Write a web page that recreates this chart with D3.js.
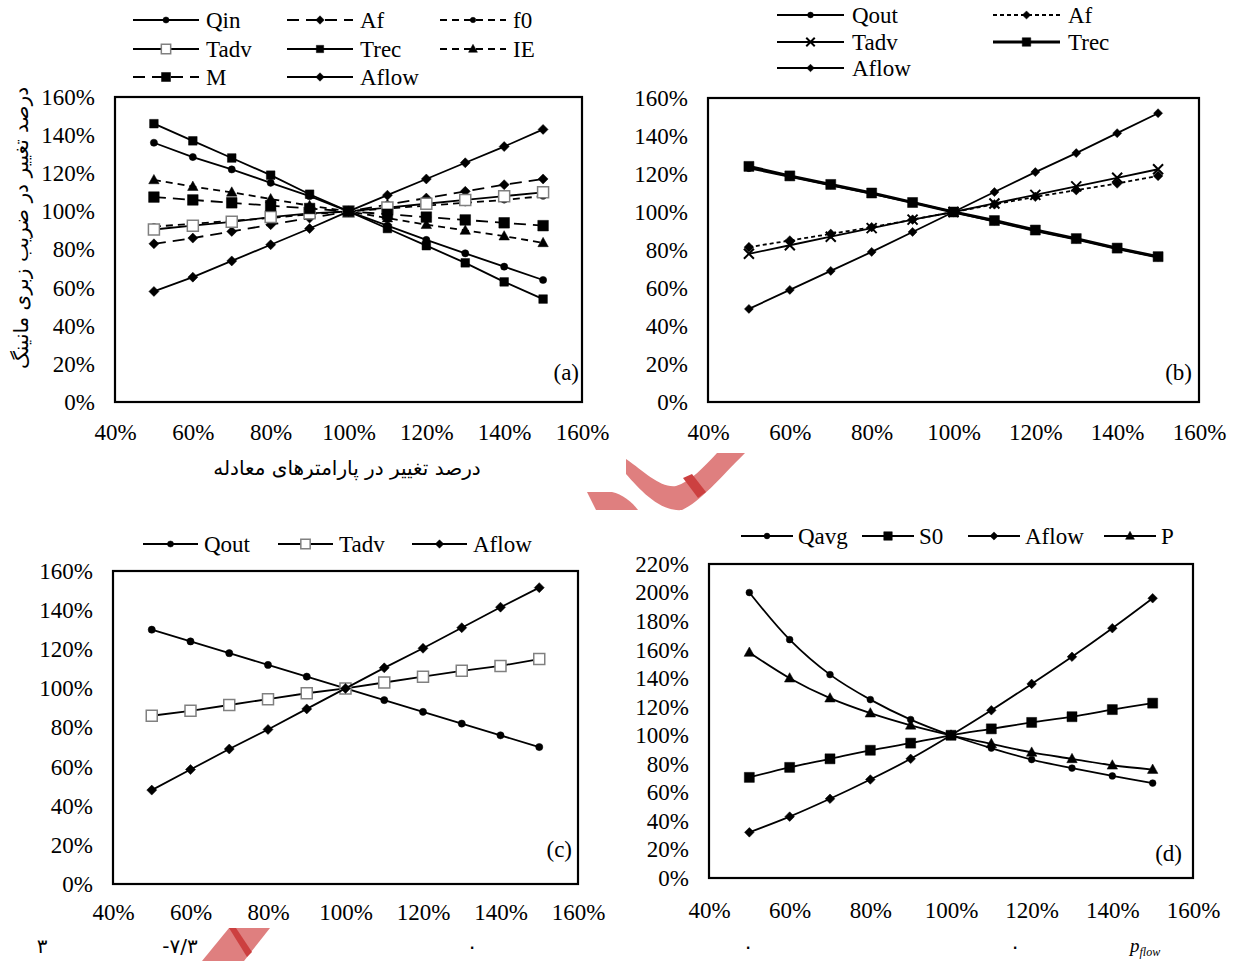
<!DOCTYPE html>
<html lang="fa">
<head>
<meta charset="UTF-8">
<script src="https://cdn.jsdelivr.net/npm/d3@7"></script>
<style>
  body { margin: 0; background: #fff; }
  svg text { font-family: "Liberation Serif", "DejaVu Serif", serif; fill: #000; }
</style>
</head>
<body>
<svg id="chart" width="1235" height="961"></svg>
<script>
// x values (percent change in the parameter)
const xPct = [50, 60, 70, 80, 90, 100, 110, 120, 130, 140, 150];
const xTicks = [40, 60, 80, 100, 120, 140, 160];
const yTicks160 = [0, 20, 40, 60, 80, 100, 120, 140, 160];
const yTicks220 = [0, 20, 40, 60, 80, 100, 120, 140, 160, 180, 200, 220];

// panel (a)
const aQin   = [136, 128.5, 122, 115, 108, 100, 92.5, 85, 78, 71, 64];
const aAf    = [83, 86, 89.5, 93, 96.5, 100, 103.5, 107, 110.5, 114, 117];
const aF0    = [92, 93.5, 95, 96.5, 98.5, 100, 101.5, 103, 104.5, 106, 108];
const aTadv  = [90.5, 92.5, 94.5, 97, 99, 100, 102, 104, 106, 108, 110];
const aTrec  = [146, 137, 128, 119, 109, 100, 91, 82, 73, 63, 54];
const aIE    = [116.5, 113, 110, 106.5, 103, 100, 96.5, 93, 90, 87, 83.5];
const aM     = [107.5, 106, 104.5, 103, 101.5, 100, 98.5, 97, 95.5, 94, 92.5];
const aAflow = [58, 65.5, 74, 82.5, 91, 100, 108.5, 117, 125.5, 134, 143];

// panel (b)
const bQout  = [123, 118.5, 114, 109.5, 105, 100, 95, 90, 85.5, 80.5, 76];
const bAf    = [81.5, 85, 88.5, 92, 96, 100, 104, 108, 111.5, 115, 119];
const bTadv  = [78, 82.5, 87, 91.5, 96, 100, 104.5, 109, 113.5, 118, 122.5];
const bTrec  = [124, 119, 114.5, 110, 105, 100, 95.5, 90.5, 86, 81, 76.5];
const bAflow = [49, 59, 69, 79, 89.5, 100, 110.5, 121, 131, 141.5, 152];

// panel (c)
const cQout  = [130, 124, 118, 112, 106, 100, 94, 88, 82, 76, 70];
const cTadv  = [86, 88.5, 91.5, 94.5, 97.5, 100, 103, 106, 109, 111.5, 115];
const cAflow = [48, 58.5, 69, 79, 89.5, 100, 110.5, 120.5, 131, 141.5, 151.5];

// panel (d)
const dQavg  = [200, 167, 142.5, 125, 111, 100, 91, 83, 77, 71.5, 66.5];
const dS0    = [70.5, 77.5, 83.5, 89.5, 94.5, 100, 104.5, 109, 113, 118, 122.5];
const dAflow = [32, 43, 55.5, 69, 83.5, 100, 117.5, 136, 155, 175, 196];
const dP     = [158, 140, 126, 115.5, 107, 100, 94, 88, 83.5, 79, 76];

const svg = d3.select("#chart");
const FS = "23px";

// marker shapes
function markerPath(type, s) {
  if (type == "circle") {
    return d3.symbol(d3.symbolCircle, Math.PI * s * s)();
  }
  if (type == "diamond") {
    return "M0," + (-s) + "L" + s + ",0L0," + s + "L" + (-s) + ",0Z";
  }
  if (type == "square" || type == "osquare") {
    return "M" + (-s) + "," + (-s) + "H" + s + "V" + s + "H" + (-s) + "Z";
  }
  if (type == "triangle") {
    return "M0," + (-s) + "L" + (s * 0.95) + "," + (s * 0.7) + "L" + (-s * 0.95) + "," + (s * 0.7) + "Z";
  }
  if (type == "x") {
    return "M" + (-s) + "," + (-s) + "L" + s + "," + s + "M" + s + "," + (-s) + "L" + (-s) + "," + s;
  }
}

function drawMarker(g, type, s, x, y) {
  const p = g.append("path")
    .attr("d", markerPath(type, s))
    .attr("transform", "translate(" + x + "," + y + ")");
  if (type == "osquare") {
    p.attr("fill", "#fff").attr("stroke", "#808080").attr("stroke-width", 1.5);
  } else if (type == "x") {
    p.attr("fill", "none").attr("stroke", "#000").attr("stroke-width", 2);
  } else {
    p.attr("fill", "#000").attr("stroke", "#000").attr("stroke-width", 0.5);
  }
}

function drawPanel(cfg) {
  const g = svg.append("g");
  const x = d3.scaleLinear().domain([40, 160]).range([cfg.left, cfg.right]);
  const y = d3.scaleLinear().domain([0, cfg.yMax]).range([cfg.bottom, cfg.top]);

  // axes labels (no tick marks)
  const ya = g.append("g")
    .attr("transform", "translate(" + cfg.left + ",0)")
    .call(d3.axisLeft(y).tickValues(cfg.yTicks).tickSize(0).tickPadding(20).tickFormat(d => d + "%"));
  const xa = g.append("g")
    .attr("transform", "translate(0," + cfg.bottom + ")")
    .call(d3.axisBottom(x).tickValues(xTicks).tickSize(0).tickPadding(cfg.xPad).tickFormat(d => d + "%"));
  [ya, xa].forEach(a => {
    a.select(".domain").remove();
    a.selectAll("text").style("font-size", FS).style("font-family", "Liberation Serif");
  });

  // frame
  g.append("rect")
    .attr("x", cfg.left).attr("y", cfg.top)
    .attr("width", cfg.right - cfg.left).attr("height", cfg.bottom - cfg.top)
    .attr("fill", "none").attr("stroke", "#000").attr("stroke-width", 2.2);

  const line = d3.line()
    .x((d, i) => x(xPct[i]))
    .y(d => y(d))
    .curve(cfg.smooth ? d3.curveCatmullRom.alpha(0.5) : d3.curveLinear);

  cfg.series.forEach(s => {
    g.append("path")
      .datum(s.values)
      .attr("d", line)
      .attr("fill", "none")
      .attr("stroke", "#000")
      .attr("stroke-width", s.w || 1.8)
      .attr("stroke-dasharray", s.dash || null);
    s.values.forEach((v, i) => drawMarker(g, s.marker, s.size, x(xPct[i]), y(v)));
  });

  // legend
  cfg.series.forEach(s => {
    const lx = s.lx, ly = s.ly, len = cfg.legLen;
    g.append("line")
      .attr("x1", lx).attr("x2", lx + len).attr("y1", ly).attr("y2", ly)
      .attr("stroke", "#000").attr("stroke-width", s.w || 1.8)
      .attr("stroke-dasharray", s.dash || null);
    drawMarker(g, s.marker, s.size * 0.85, lx + len / 2, ly);
    g.append("text")
      .attr("x", lx + len + cfg.legGap).attr("y", ly + 8)
      .style("font-size", FS)
      .text(s.name);
  });

  g.append("text")
    .attr("x", cfg.tagX).attr("y", cfg.tagY)
    .attr("text-anchor", "end")
    .style("font-size", FS)
    .text(cfg.tag);
}

drawPanel({
  left: 115, right: 582, top: 97, bottom: 402, yMax: 160, yTicks: yTicks160, xPad: 22,
  legLen: 66, legGap: 7, tag: "(a)", tagX: 579, tagY: 380,
  series: [
    { name: "Qin",   values: aQin,   marker: "circle",   size: 3.6, lx: 133, ly: 20 },
    { name: "Af",    values: aAf,    marker: "diamond",  size: 5,   dash: "12,7", lx: 287, ly: 20 },
    { name: "f0",    values: aF0,    marker: "circle",   size: 3.2, dash: "7,5",  lx: 440, ly: 20 },
    { name: "Tadv",  values: aTadv,  marker: "osquare",  size: 5.5, lx: 133, ly: 49 },
    { name: "Trec",  values: aTrec,  marker: "square",   size: 4.3, lx: 287, ly: 49 },
    { name: "IE",    values: aIE,    marker: "triangle", size: 5.5, dash: "7,5",  lx: 440, ly: 49 },
    { name: "M",     values: aM,     marker: "square",   size: 5.3, dash: "12,7", lx: 133, ly: 77 },
    { name: "Aflow", values: aAflow, marker: "diamond",  size: 5,   lx: 287, ly: 77 }
  ]
});

drawPanel({
  left: 708, right: 1199, top: 98, bottom: 402, yMax: 160, yTicks: yTicks160, xPad: 22,
  legLen: 67, legGap: 8, tag: "(b)", tagX: 1192, tagY: 380,
  series: [
    { name: "Qout",  values: bQout,  marker: "circle",  size: 3.4, lx: 777, ly: 15 },
    { name: "Af",    values: bAf,    marker: "diamond", size: 4.8, dash: "4,3", lx: 993, ly: 15 },
    { name: "Tadv",  values: bTadv,  marker: "x",       size: 5,   lx: 777, ly: 42 },
    { name: "Trec",  values: bTrec,  marker: "square",  size: 5,   w: 3, lx: 993, ly: 42 },
    { name: "Aflow", values: bAflow, marker: "diamond", size: 4.5, lx: 777, ly: 68 }
  ]
});

drawPanel({
  left: 113, right: 578, top: 571, bottom: 884, yMax: 160, yTicks: yTicks160, xPad: 20,
  legLen: 55, legGap: 6, tag: "(c)", tagX: 572, tagY: 857,
  series: [
    { name: "Qout",  values: cQout,  marker: "circle",  size: 3.6, lx: 143, ly: 544 },
    { name: "Tadv",  values: cTadv,  marker: "osquare", size: 5.5, lx: 278, ly: 544 },
    { name: "Aflow", values: cAflow, marker: "diamond", size: 5,   lx: 412, ly: 544 }
  ]
});

drawPanel({
  left: 709, right: 1193, top: 564, bottom: 878, yMax: 220, yTicks: yTicks220, xPad: 24,
  legLen: 52, legGap: 5, tag: "(d)", tagX: 1182, tagY: 861, smooth: true,
  series: [
    { name: "Qavg",  values: dQavg,  marker: "circle",   size: 3.4, lx: 741, ly: 536 },
    { name: "S0",    values: dS0,    marker: "square",   size: 5,   lx: 862, ly: 536 },
    { name: "Aflow", values: dAflow, marker: "diamond",  size: 4.8, lx: 968, ly: 536 },
    { name: "P",     values: dP,     marker: "triangle", size: 5.5, lx: 1104, ly: 536 }
  ]
});

// axis titles of panel (a)
svg.append("text")
  .attr("transform", "translate(28,228) rotate(-90)")
  .attr("text-anchor", "middle")
  .style("font-size", "20px")
  .style("font-family", "DejaVu Sans")
  .text("درصد تغییر در ضریب زبری مانینگ");

svg.append("text")
  .attr("x", 347).attr("y", 475)
  .attr("text-anchor", "middle")
  .style("font-size", "20px")
  .style("font-family", "DejaVu Sans")
  .text("درصد تغییر  در پارامترهای معادله");

// watermark fragments
const wm = svg.append("g");
wm.append("path")
  .attr("d", "M626,459 C645,472 660,488 676,486 C690,482 705,466 717,453 L745,453 C720,478 700,502 682,510 C660,512 640,490 626,474 Z")
  .attr("fill", "#df7f7f");
wm.append("path")
  .attr("d", "M587,492 L612,492 C622,494 632,502 638,510 L596,510 Z")
  .attr("fill", "#df7f7f");
wm.append("path")
  .attr("d", "M683,478 L692,474 L706,492 L698,498 Z")
  .attr("fill", "#cc4040");
wm.append("path")
  .attr("d", "M229,928 L270,928 L244,961 L202,961 Z")
  .attr("fill", "#df7f7f");
wm.append("path")
  .attr("d", "M229,928 L236,928 L252,952 L247,957 Z")
  .attr("fill", "#cc4040");

// footer text from the page below
const foot = [
  { t: "۳", x: 42 },
  { t: "-۷/۳", x: 180 },
  { t: "٠", x: 472 },
  { t: "٠", x: 748 },
  { t: "٠", x: 1015 }
];
svg.selectAll(".foot").data(foot).enter().append("text")
  .attr("class", "foot")
  .attr("x", d => d.x).attr("y", 953)
  .attr("text-anchor", "middle")
  .attr("direction", "ltr")
  .style("font-size", "20px")
  .style("font-family", "DejaVu Sans")
  .text(d => d.t);

const pf = svg.append("text").attr("x", 1130).attr("y", 952)
  .style("font-style", "italic").style("font-size", "19px");
pf.append("tspan").text("p");
pf.append("tspan").attr("dy", 4).style("font-size", "12px").text("flow");
</script>
</body>
</html>
